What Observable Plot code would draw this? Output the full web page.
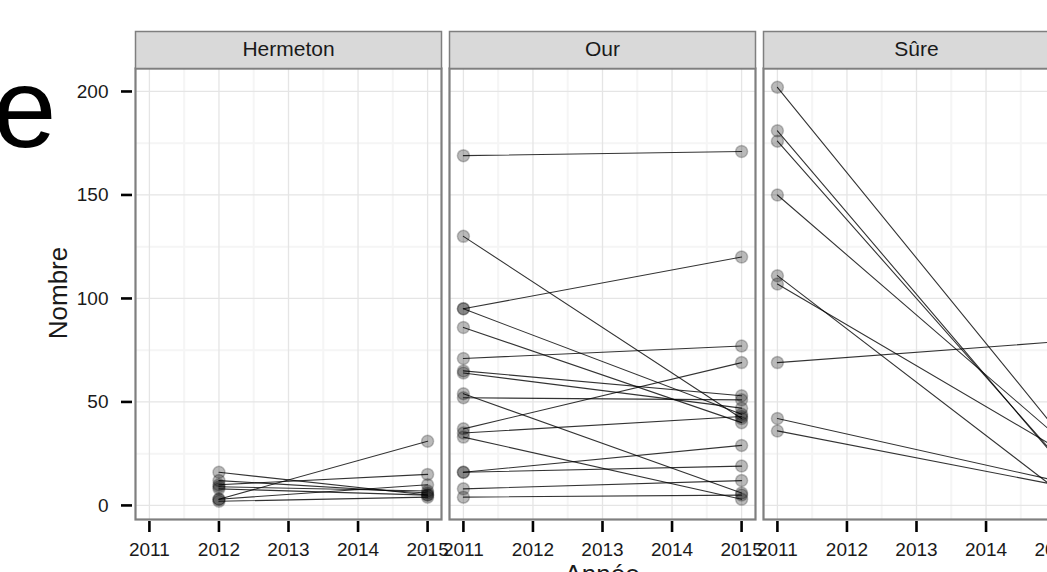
<!DOCTYPE html>
<html>
<head>
<meta charset="utf-8">
<script src="https://cdn.jsdelivr.net/npm/d3@7"></script>
<script src="https://cdn.jsdelivr.net/npm/@observablehq/plot@0.6"></script>
<style>
  html, body { margin: 0; padding: 0; background: white; overflow: hidden; width: 1047px; height: 572px; }
  #wrap { position: relative; width: 1080px; height: 600px; font-family: "Liberation Sans", Arial, Helvetica, sans-serif; }
  #big { position: absolute; left: -7px; top: 51px; font-size: 114px; line-height: 1; color: #000; }
  #ytitle { position: absolute; left: 58px; top: 293px; font-size: 26px; color: #1a1a1a; transform: translate(-50%, -50%) rotate(-90deg); white-space: nowrap; }
  #xtitle { position: absolute; left: 602px; top: 561px; font-size: 26px; color: #1a1a1a; transform: translateX(-50%); white-space: nowrap; line-height: 1; }
</style>
</head>
<body>
<div id="wrap">
  <div id="big">e</div>
  <div id="chart"></div>
  <div id="ytitle">Nombre</div>
  <div id="xtitle">Année</div>
</div>
<script>
// ---- data ----
const rivers = ["Hermeton", "Our", "Sûre"];
const years = [2011, 2012, 2013, 2014, 2015];
const yTicks = [0, 50, 100, 150, 200];
const minorX = [2011.5, 2012.5, 2013.5, 2014.5];
const minorY = [25, 75, 125, 175];

const hermeton2012 = [16, 12, 10, 9, 8, 3, 3, 2];
const hermeton2015 = [5, 6, 15, 7, 5, 31, 10, 4];

const our2011 = [169, 130, 95, 95, 86, 71, 65, 64, 54, 52, 37, 35, 33, 16, 16, 8, 4];
const our2015 = [171, 42, 120, 44, 40, 77, 53, 47, 6, 51, 69, 43, 3, 29, 19, 12, 5];

const sure2011 = [202, 181, 176, 150, 111, 107, 69, 42, 36];
const sure2015 = [37, 23, 24, 34, 8, 28, 79, 12, 10];

function pairs(river, y0, y1, a, b) {
  return a.flatMap((v, i) => [
    {river, id: river + i, year: y0, value: v},
    {river, id: river + i, year: y1, value: b[i]}
  ]);
}
const rows = [
  ...pairs("Hermeton", 2012, 2015, hermeton2012, hermeton2015),
  ...pairs("Our", 2011, 2015, our2011, our2015),
  ...pairs("Sûre", 2011, 2015, sure2011, sure2015)
];

const chart = Plot.plot({
  width: 1080,
  height: 600,
  marginLeft: 135,
  marginRight: 11,
  marginTop: 68,
  marginBottom: 81,
  style: {fontFamily: "'Liberation Sans', Arial, Helvetica, sans-serif", fontSize: "19px", color: "#1a1a1a", background: "white", maxWidth: "none", overflow: "visible"},
  fx: {domain: rivers, paddingInner: 0.0255, paddingOuter: 0, axis: null, label: null},
  x: {domain: [2010.8, 2015.2], label: null},
  y: {domain: [-6.8, 211.1], label: null},
  marks: [
    Plot.gridX(minorX, {stroke: "#F5F5F5", strokeOpacity: 1, strokeWidth: 2}),
    Plot.gridY(minorY, {stroke: "#F5F5F5", strokeOpacity: 1, strokeWidth: 2}),
    Plot.gridX(years, {stroke: "#E5E5E5", strokeOpacity: 1, strokeWidth: 1.3}),
    Plot.gridY(yTicks, {stroke: "#E5E5E5", strokeOpacity: 1, strokeWidth: 1.3}),
    Plot.line(rows, {fx: "river", x: "year", y: "value", z: "id", stroke: "#000", strokeOpacity: 0.8, strokeWidth: 1.1}),
    Plot.dot(rows, {fx: "river", x: "year", y: "value", r: 6, fill: "#000", fillOpacity: 0.27, stroke: "#000", strokeOpacity: 0.22, strokeWidth: 1.5}),
    Plot.frame({stroke: "#7F7F7F", strokeWidth: 2.2}),
    Plot.frame({fill: "#D9D9D9", stroke: "#7F7F7F", strokeWidth: 1.5, insetTop: -37, insetBottom: 451}),
    Plot.text(rivers, {fx: d => d, text: d => d, frameAnchor: "top", lineAnchor: "middle", dy: -19, fontSize: 21, fill: "#1a1a1a"}),
    Plot.axisX(years, {anchor: "bottom", tickSize: 11, tickPadding: 10, tickFormat: "d", strokeWidth: 2.6, stroke: "#000", dy: 2}),
    Plot.axisY(yTicks, {anchor: "left", tickSize: 11, tickPadding: 13, strokeWidth: 2.6, stroke: "#000", dx: -3})
  ]
});
document.getElementById("chart").appendChild(chart);
</script>
</body>
</html>
